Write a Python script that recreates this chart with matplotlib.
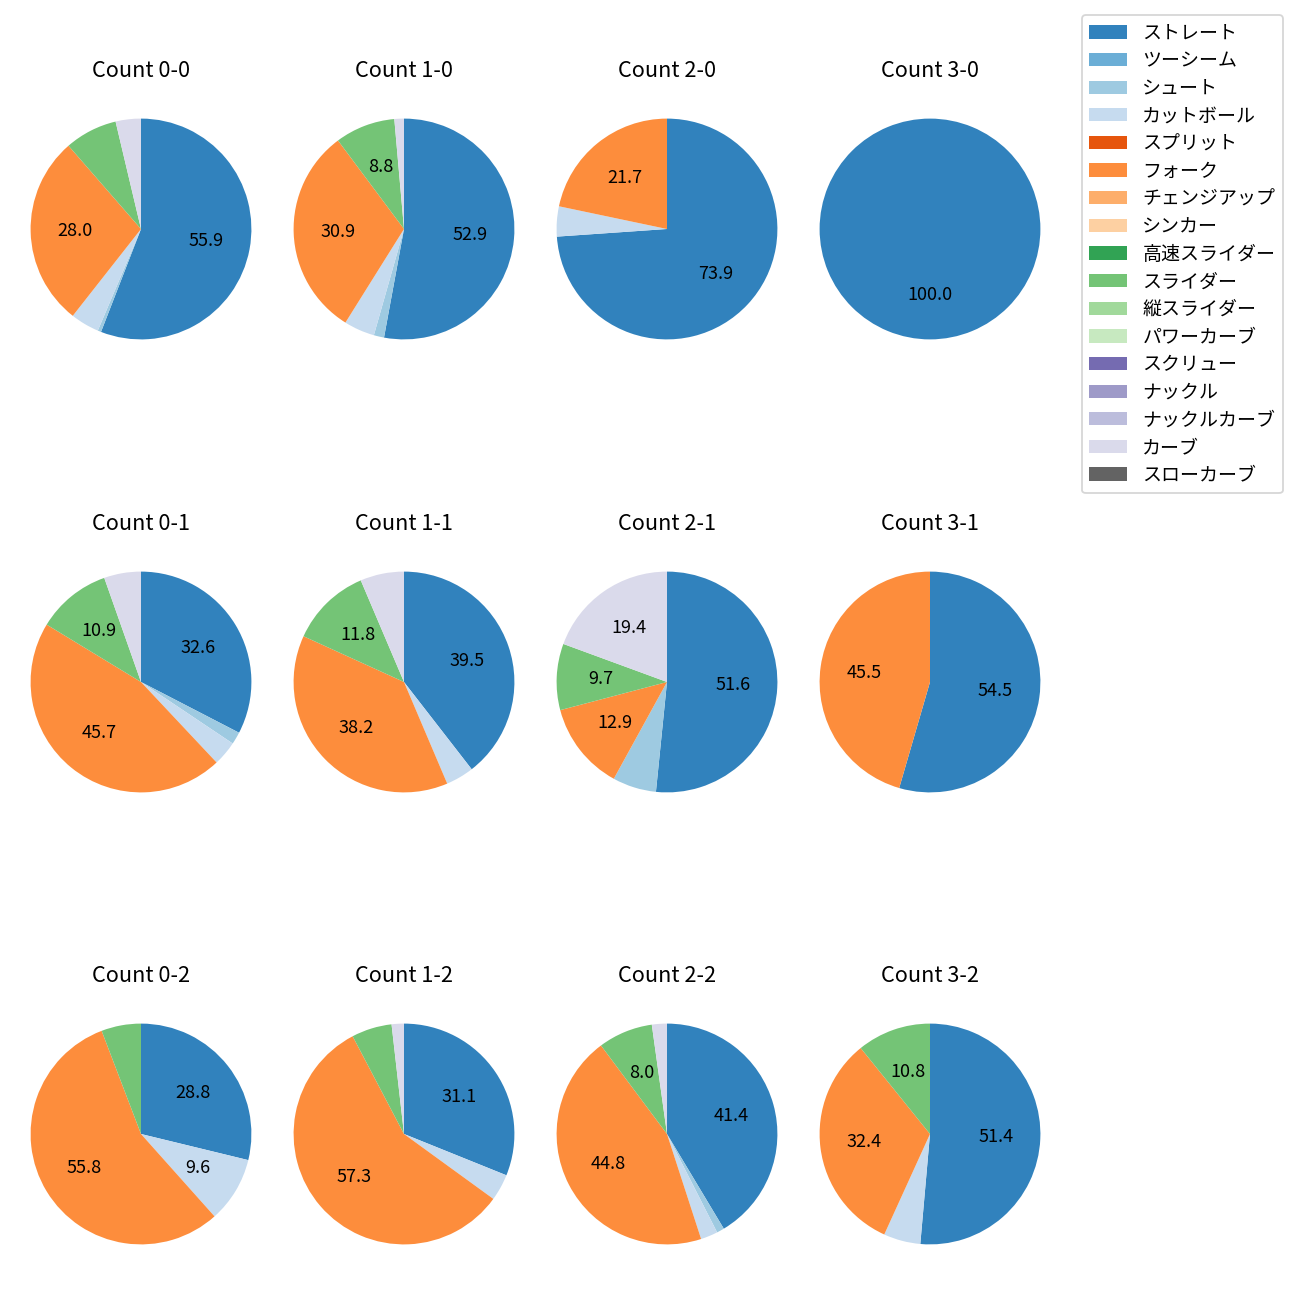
import matplotlib
matplotlib.use("Agg")
import matplotlib.pyplot as plt
from matplotlib.patches import Patch

plt.rcParams['font.family'] = ['Noto Sans CJK JP', 'DejaVu Sans']

pitch_types = ["ストレート", "ツーシーム", "シュート", "カットボール", "スプリット", "フォーク",
               "チェンジアップ", "シンカー", "高速スライダー", "スライダー", "縦スライダー",
               "パワーカーブ", "スクリュー", "ナックル", "ナックルカーブ", "カーブ", "スローカーブ"]

count_labels = ["Count 0-0", "Count 1-0", "Count 2-0", "Count 3-0",
                "Count 0-1", "Count 1-1", "Count 2-1", "Count 3-1",
                "Count 0-2", "Count 1-2", "Count 2-2", "Count 3-2"]

count_0_0 = [55.9, 0, 0.5, 4.2, 0, 28.0, 0, 0, 0, 7.7, 0, 0, 0, 0, 0, 3.7, 0]
count_1_0 = [52.9, 0, 1.5, 4.5, 0, 30.9, 0, 0, 0, 8.8, 0, 0, 0, 0, 0, 1.4, 0]
count_2_0 = [73.9, 0, 0, 4.4, 0, 21.7, 0, 0, 0, 0, 0, 0, 0, 0, 0, 0, 0]
count_3_0 = [100.0, 0, 0, 0, 0, 0, 0, 0, 0, 0, 0, 0, 0, 0, 0, 0, 0]
count_0_1 = [32.6, 0, 1.8, 3.6, 0, 45.7, 0, 0, 0, 10.9, 0, 0, 0, 0, 0, 5.4, 0]
count_1_1 = [39.5, 0, 0, 4.1, 0, 38.2, 0, 0, 0, 11.8, 0, 0, 0, 0, 0, 6.4, 0]
count_2_1 = [51.6, 0, 6.4, 0, 0, 12.9, 0, 0, 0, 9.7, 0, 0, 0, 0, 0, 19.4, 0]
count_3_1 = [54.5, 0, 0, 0, 0, 45.5, 0, 0, 0, 0, 0, 0, 0, 0, 0, 0, 0]
count_0_2 = [28.8, 0, 0, 9.6, 0, 55.8, 0, 0, 0, 5.8, 0, 0, 0, 0, 0, 0, 0]
count_1_2 = [31.1, 0, 0, 3.9, 0, 57.3, 0, 0, 0, 5.9, 0, 0, 0, 0, 0, 1.8, 0]
count_2_2 = [41.4, 0, 1.1, 2.5, 0, 44.8, 0, 0, 0, 8.0, 0, 0, 0, 0, 0, 2.2, 0]
count_3_2 = [51.4, 0, 0, 5.4, 0, 32.4, 0, 0, 0, 10.8, 0, 0, 0, 0, 0, 0, 0]

all_counts = [count_0_0, count_1_0, count_2_0, count_3_0,
              count_0_1, count_1_1, count_2_1, count_3_1,
              count_0_2, count_1_2, count_2_2, count_3_2]

cmap = plt.get_cmap('tab20c')
colors = [cmap(i) for i in range(len(pitch_types))]

W = H = 1300
fig = plt.figure(figsize=(10, 10), dpi=130)

centers_x = [141, 404, 667, 930]
centers_y = [229, 682, 1134]
size = 276


def autopct(p):
    return f"{p:.1f}" if p >= 7.8 else ""


for k, vals in enumerate(all_counts):
    r, c = divmod(k, 4)
    cx, cy = centers_x[c], centers_y[r]
    ax = fig.add_axes([(cx - size / 2) / W, (H - cy - size / 2) / H, size / W, size / H])
    idx = [i for i, v in enumerate(vals) if v > 0]
    ax.pie([vals[i] for i in idx], colors=[colors[i] for i in idx],
           startangle=90, counterclock=False, autopct=autopct,
           textprops={'fontsize': 10})
    ax.set_title(count_labels[k], fontsize=12, pad=7.7)

handles = [Patch(facecolor=colors[i]) for i in range(len(pitch_types))]
fig.legend(handles, pitch_types, loc='upper right',
           bbox_to_anchor=(1283 / W, 1 - 15 / H), borderaxespad=0,
           fontsize=10.5, labelspacing=0.35)

fig.savefig("out.png", dpi=130)
